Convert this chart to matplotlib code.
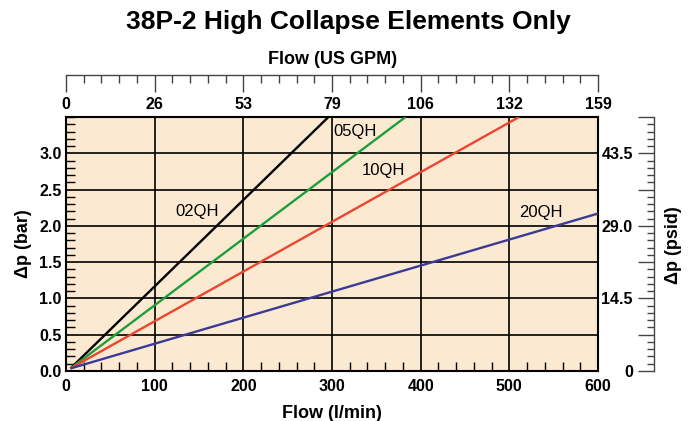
import matplotlib
matplotlib.use("Agg")
import matplotlib.pyplot as plt
from matplotlib.ticker import FixedLocator, MultipleLocator, FixedFormatter

plt.rcParams['font.family'] = ['Liberation Sans', 'DejaVu Sans']

# Pressure drop (bar) vs flow (l/min) for each element grade: start and end points
flow_02QH = [5, 296]
dp_02QH = [0.035, 3.5]
flow_05QH = [5, 383]
dp_05QH = [0.035, 3.5]
flow_10QH = [5, 511]
dp_10QH = [0.035, 3.5]
flow_20QH = [5, 600]
dp_20QH = [0.035, 2.17]

series_names = ["02QH", "05QH", "10QH", "20QH"]
series_colors = ["#000000", "#1E9E3A", "#EC4530", "#3A3B96"]
label_pos = [(123, 2.2), (301, 3.30), (334, 2.76), (511, 2.18)]

# Axis tick labels
lpm_ticks = [0, 100, 200, 300, 400, 500, 600]
gpm_labels = ["0", "26", "53", "79", "106", "132", "159"]
bar_ticks = [0.0, 0.5, 1.0, 1.5, 2.0, 2.5, 3.0]
psi_ticks_bar = [0.0, 0.5, 1.0, 1.5, 2.0, 2.5, 3.0, 3.5]
psi_labels = ["0", "", "14.5", "", "29.0", "", "43.5", ""]

W, H = 696, 421
PT = 0.72  # points per pixel at 100 dpi
fig = plt.figure(figsize=(W / 100, H / 100), dpi=100)

def rect(x0, y0, x1, y1):
    return [x0 / W, 1 - y1 / H, (x1 - x0) / W, (y1 - y0) / H]

px0, py0, px1, py1 = 66, 117, 598, 371
ax = fig.add_axes(rect(px0, py0, px1, py1))
ax.set_facecolor("#FCE9D2")
ax.set_xlim(0, 600)
ax.set_ylim(0, 3.5)

# grid on major positions
ax.xaxis.set_major_locator(FixedLocator(lpm_ticks))
ax.yaxis.set_major_locator(FixedLocator(bar_ticks))
ax.xaxis.set_minor_locator(MultipleLocator(20))
ax.yaxis.set_minor_locator(MultipleLocator(0.1))
ax.set_yticklabels([f"{v:.1f}" for v in bar_ticks])
ax.set_xticklabels([str(v) for v in lpm_ticks])
ax.grid(True, which="major", color="black", linewidth=1.2)
ax.set_axisbelow(True)
ax.tick_params(axis="y", which="major", length=0, labelsize=11.5, pad=3)
ax.tick_params(axis="x", which="major", length=0, labelsize=11.5, pad=6)
ax.tick_params(which="minor", direction="in", length=9 * PT, width=1.0, color="black")
for lbl in ax.get_xticklabels() + ax.get_yticklabels():
    lbl.set_fontweight("bold")
for s in ax.spines.values():
    s.set_linewidth(1.5)

flows = [flow_02QH, flow_05QH, flow_10QH, flow_20QH]
dps = [dp_02QH, dp_05QH, dp_10QH, dp_20QH]
for f, d, c in zip(flows, dps, series_colors):
    ax.plot(f, d, color=c, linewidth=1.7, solid_capstyle="butt", zorder=3)
for name, (lx, ly) in zip(series_names, label_pos):
    ax.text(lx, ly, name, fontsize=12, va="center", ha="left", zorder=4)

ax.set_xlabel("Flow (l/min)", fontsize=13, fontweight="bold", labelpad=8)
ax.set_ylabel("Δp (bar)", fontsize=13, fontweight="bold", labelpad=5)

# top flow scale in US GPM
axt = fig.add_axes(rect(px0, 60, px1, 75))
axt.set_xlim(0, 600)
axt.patch.set_visible(False)
for k in ["top", "left", "right"]:
    axt.spines[k].set_visible(False)
axt.spines["bottom"].set_linewidth(1.0)
axt.spines["bottom"].set_color("#444444")
axt.set_yticks([])
axt.xaxis.set_major_locator(FixedLocator(lpm_ticks))
axt.xaxis.set_major_formatter(FixedFormatter(gpm_labels))
axt.xaxis.set_minor_locator(MultipleLocator(20))
axt.tick_params(axis="x", which="major", direction="out", length=17 * PT, width=1.0,
                color="#444444", labelsize=11.5, pad=5 * PT)
axt.tick_params(axis="x", which="minor", direction="out", length=8 * PT, width=1.0,
                color="#444444")
for lbl in axt.get_xticklabels():
    lbl.set_fontweight("bold")
fig.text(333 / W, 1 - 60 / H, "Flow (US GPM)", fontsize=13, fontweight="bold",
         ha="center", va="center")

# right pressure scale in psid
axr = fig.add_axes(rect(654, py0, 670, py1))
axr.set_ylim(0, 3.5)
axr.patch.set_visible(False)
for k in ["top", "bottom", "right"]:
    axr.spines[k].set_visible(False)
axr.spines["left"].set_linewidth(1.0)
axr.spines["left"].set_color("#444444")
axr.set_xticks([])
axr.yaxis.set_major_locator(FixedLocator(psi_ticks_bar))
axr.yaxis.set_major_formatter(FixedFormatter(psi_labels))
axr.yaxis.set_minor_locator(MultipleLocator(0.1))
axr.tick_params(axis="y", which="major", direction="out", length=16 * PT, width=1.0,
                color="#444444", labelsize=11.5, pad=5 * PT)
axr.tick_params(axis="y", which="minor", direction="out", length=7 * PT, width=1.0,
                color="#444444")
for lbl in axr.get_yticklabels():
    lbl.set_fontweight("bold")
fig.text(674 / W, 1 - 245 / H, "Δp (psid)", fontsize=13, fontweight="bold",
         rotation=90, ha="center", va="center")

fig.text(348 / W, 1 - 22 / H, "38P-2 High Collapse Elements Only", fontsize=19,
         fontweight="bold", ha="center", va="center")

fig.savefig("out.png", dpi=100)
